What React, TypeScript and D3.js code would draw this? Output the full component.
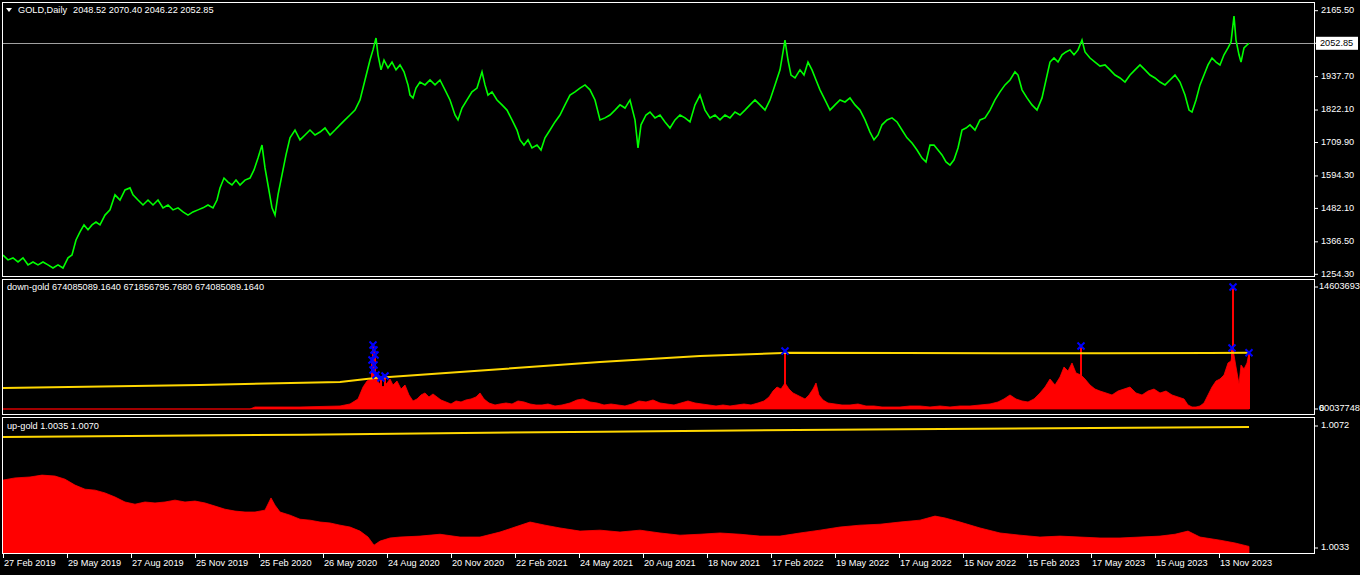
import React, { useEffect } from "react";
import * as d3 from "d3";

// ---------------- data ----------------
const goldTitle = "GOLD,Daily  2048.52 2070.40 2046.22 2052.85";
const downTitle = "down-gold 674085089.1640 671856795.7680 674085089.1640";
const upTitle = "up-gold 1.0035 1.0070";
const lastPrice = 2052.85;
const lastPriceLabel = "2052.85";

const xTickBars = [0, 64, 128, 192, 256, 320, 384, 448, 512, 576, 640, 704, 768, 832, 896, 960, 1024, 1088, 1152, 1216];
const xTickLabels = [
  "27 Feb 2019", "29 May 2019", "27 Aug 2019", "25 Nov 2019", "25 Feb 2020", "26 May 2020",
  "24 Aug 2020", "20 Nov 2020", "22 Feb 2021", "24 May 2021", "20 Aug 2021", "18 Nov 2021",
  "17 Feb 2022", "19 May 2022", "17 Aug 2022", "15 Nov 2022", "15 Feb 2023", "17 May 2023",
  "15 Aug 2023", "13 Nov 2023",
];

const priceTicks = [2165.5, 1937.7, 1822.1, 1709.9, 1594.3, 1482.1, 1366.5, 1254.3];
const priceMin = 1254.3;
const priceMax = 2165.5;

const downMax = 1460.369; // millions
const downTopLabel = "146036935";
const downBottomLabels = ["60037748", "0"];

const upMin = 1.0033;
const upMax = 1.0072;
const upTickLabels = ["1.0072", "1.0033"];

const goldBars = [
  0, 5, 10, 15, 20, 25, 30, 35, 40, 45, 50, 55, 60, 65, 69, 73, 77, 81, 85, 89, 93, 97, 102, 107, 112, 117, 122, 127, 130, 135,
  140, 145, 150, 155, 160, 165, 170, 175, 180, 185, 190, 195, 200, 205, 210, 214, 217, 221, 225, 229, 233, 237, 242, 247, 251, 255,
  259, 262, 265, 269, 272, 275, 279, 283, 287, 292, 297, 302, 307, 312, 317, 322, 327, 332, 337, 342, 347, 352, 357, 362, 367, 370,
  373, 375, 378, 381, 385, 389, 393, 397, 401, 405, 407, 410, 413, 417, 422, 427, 432, 437, 442, 447, 452, 455, 459, 464, 469, 474,
  479, 482, 485, 489, 494, 499, 504, 509, 514, 517, 521, 525, 529, 534, 538, 542, 547, 552, 557, 562, 567, 572, 577, 582, 587, 592,
  597, 602, 607, 612, 617, 622, 627, 632, 635, 638, 643, 647, 652, 657, 662, 667, 672, 677, 682, 687, 692, 697, 702, 707, 712, 717,
  722, 727, 732, 737, 742, 747, 752, 757, 762, 767, 772, 777, 782, 785, 788, 792, 797, 801, 805, 809, 813, 817, 822, 827, 832, 837,
  842, 847, 852, 857, 862, 867, 871, 875, 879, 884, 889, 894, 899, 904, 909, 914, 919, 923, 927, 931, 935, 939, 943, 947, 951, 955,
  959, 963, 967, 972, 977, 982, 987, 992, 997, 1002, 1007, 1012, 1015, 1019, 1024, 1029, 1034, 1039, 1043, 1047, 1051, 1055, 1059,
  1063, 1067, 1071, 1075, 1079, 1082, 1087, 1092, 1097, 1102, 1107, 1112, 1117, 1122, 1127, 1132, 1137, 1142, 1147, 1152, 1157,
  1162, 1167, 1172, 1177, 1182, 1186, 1189, 1193, 1197, 1201, 1205, 1209, 1213, 1217, 1221, 1225, 1228, 1231, 1233, 1236, 1238,
  1241, 1244, 1246,
];
const goldClose = [
  1321, 1304, 1311, 1297, 1311, 1287, 1297, 1287, 1297, 1287, 1276, 1287, 1276, 1311, 1321, 1373, 1401, 1425, 1408, 1425, 1435, 1425, 1459, 1477, 1529, 1511, 1546, 1553, 1529, 1511,
  1494, 1511, 1494, 1511, 1484, 1494, 1477, 1484, 1470, 1459, 1470, 1477, 1484, 1494, 1484, 1511, 1553, 1587, 1573, 1563, 1580, 1563, 1580, 1587, 1615, 1656,
  1701, 1622, 1563, 1484, 1459, 1529, 1598, 1667, 1726, 1753, 1719, 1736, 1753, 1736, 1746, 1760, 1736, 1753, 1771, 1788, 1805, 1822, 1857, 1926, 1995, 2030,
  2071, 2013, 1961, 1995, 1968, 1988, 1961, 1978, 1954, 1909, 1874, 1864, 1898, 1919, 1909, 1926, 1909, 1926, 1892, 1857, 1805, 1788, 1829, 1857, 1885, 1898,
  1954, 1909, 1874, 1885, 1857, 1840, 1822, 1788, 1753, 1719, 1701, 1719, 1691, 1701, 1684, 1726, 1753, 1781, 1805, 1840, 1874, 1885, 1898, 1909, 1892, 1857,
  1788, 1795, 1805, 1822, 1840, 1829, 1857, 1788, 1691, 1771, 1805, 1815, 1795, 1805, 1781, 1760, 1788, 1805, 1795, 1781, 1840, 1874, 1822, 1795, 1805, 1788,
  1805, 1795, 1815, 1805, 1822, 1840, 1857, 1840, 1822, 1857, 1909, 1961, 2064, 1995, 1943, 1933, 1961, 1943, 1988, 1961, 1926, 1892, 1857, 1822, 1840, 1857,
  1850, 1864, 1840, 1822, 1788, 1746, 1719, 1736, 1771, 1788, 1795, 1781, 1753, 1726, 1708, 1684, 1656, 1643, 1701, 1701, 1684, 1667, 1643, 1632, 1650, 1691,
  1753, 1760, 1771, 1753, 1788, 1795, 1822, 1857, 1885, 1909, 1926, 1954, 1943, 1892, 1864, 1840, 1822, 1864, 1926, 1988, 2002, 1988, 2013,
  2023, 2030, 2013, 2030, 2064, 2023, 2002, 1988, 1974, 1978, 1961, 1943, 1933, 1919, 1943, 1961, 1978, 1961, 1943, 1933, 1919,
  1909, 1926, 1943, 1919, 1874, 1822, 1815, 1857, 1909, 1943, 1978, 2002, 1988, 1978, 2013, 2037, 2057, 2147, 2064, 2013, 1988,
  2037, 2047, 2053,
];

// down-gold histogram (millions)
const downBars = [
  0, 247, 252, 297, 337, 347, 355, 360, 364, 368, 372, 376, 380, 384, 387, 390, 394, 398, 402, 406, 410, 414, 418, 422, 426, 430,
  434, 438, 443, 448, 453, 458, 463, 468, 473, 477, 481, 486, 492, 497, 503, 509, 515, 521, 527, 533, 539, 545, 552, 559, 567, 574,
  580, 587, 594, 601, 608, 615, 622, 629, 636, 643, 650, 657, 664, 671, 678, 685, 692, 699, 706, 713, 720, 727, 734, 741, 748, 755,
  761, 766, 770, 774, 778, 782, 786, 790, 794, 798, 802, 806, 810, 813, 816, 820, 825, 832, 839, 847, 855, 863, 871, 879, 887, 897,
  907, 917, 927, 937, 947, 957, 967, 977, 987, 995, 1001, 1007, 1013, 1019, 1025, 1031, 1037, 1042, 1047, 1052, 1057, 1061, 1065,
  1069, 1073, 1078, 1082, 1087, 1092, 1097, 1103, 1109, 1115, 1121, 1127, 1133, 1139, 1145, 1151, 1157, 1163, 1169, 1175, 1181,
  1185, 1189, 1193, 1197, 1201, 1205, 1209, 1213, 1217, 1221, 1225, 1228, 1230, 1233, 1236, 1238, 1241, 1244, 1246,
];
const downValues = [
  0, 0, 24, 24, 36, 60, 120, 263, 335, 359, 431, 311, 263, 311, 359, 287, 335, 239, 287, 168, 96, 120, 168, 192, 144, 180,
  144, 108, 84, 60, 96, 84, 108, 120, 144, 192, 120, 72, 48, 60, 72, 60, 96, 84, 60, 48, 48, 60, 36, 48, 72, 108,
  120, 84, 72, 48, 60, 48, 36, 60, 96, 84, 108, 72, 60, 48, 72, 96, 72, 60, 48, 36, 48, 36, 48, 60, 48, 72,
  96, 144, 215, 263, 239, 311, 239, 192, 168, 144, 120, 168, 239, 311, 168, 108, 72, 60, 48, 48, 60, 36, 36, 24, 24, 24,
  36, 36, 24, 36, 24, 36, 36, 48, 60, 84, 120, 168, 120, 96, 84, 120, 192, 263, 359, 287, 383, 503, 455,
  551, 431, 407, 359, 287, 239, 215, 192, 168, 215, 239, 263, 192, 168, 215, 239, 192, 215, 168, 144, 120,
  48, 24, 24, 36, 72, 168, 263, 335, 359, 407, 551, 575, 718, 503, 299, 527, 479, 551, 674,
];
const downAvgBars = [0, 197, 337, 372, 457, 597, 697, 787, 900, 1000, 1100, 1206, 1246];
const downAvgValues = [251, 287, 323, 371, 443, 563, 634, 672, 670, 668, 668, 670, 672];

const signalBars = [370, 371, 372, 369, 371, 370, 373, 378, 382, 782, 1078, 1230, 1229, 1246];
const signalValues = [766, 706, 646, 587, 527, 467, 407, 371, 395, 694, 754, 1460, 730, 674];

// up-gold
const upBars = [
  0, 12, 27, 39, 52, 62, 72, 82, 92, 102, 112, 122, 132, 142, 152, 162, 172, 182, 192, 202, 212, 222, 232, 242, 252, 262, 268,
  272, 277, 287, 297, 307, 317, 327, 337, 347, 357, 365, 371, 377, 387, 397, 417, 437, 457, 477, 497, 512, 527, 542, 557, 577,
  597, 617, 637, 657, 677, 697, 717, 737, 757, 777, 797, 817, 837, 857, 877, 897, 917, 932, 942, 957, 977, 997, 1017, 1037,
  1057, 1077, 1097, 1117, 1137, 1157, 1172, 1185, 1197, 1217, 1232, 1246,
];
const upValues = [
  1.00547, 1.00554, 1.00557, 1.00563, 1.0056, 1.0055, 1.00531, 1.00518, 1.00515, 1.00506, 1.00493, 1.00477, 1.0047, 1.00477,
  1.00474, 1.00477, 1.00483, 1.00477, 1.0048, 1.00474, 1.00464, 1.00454, 1.00448, 1.00445, 1.00445, 1.00451, 1.0049,
  1.00467, 1.00445, 1.00435, 1.00422, 1.00419, 1.00413, 1.0041, 1.00403, 1.00397, 1.00384, 1.00365, 1.00339, 1.00352,
  1.00362, 1.00365, 1.00368, 1.00374, 1.00365, 1.00365, 1.00381, 1.00397, 1.00413, 1.00403, 1.00394, 1.00384,
  1.00387, 1.00381, 1.00387, 1.00378, 1.00371, 1.00374, 1.00378, 1.00374, 1.00368, 1.00368, 1.00378, 1.00387, 1.00397,
  1.00403, 1.00406, 1.00413, 1.00419, 1.00432, 1.00426, 1.00413, 1.00394, 1.00378, 1.00371, 1.00365,
  1.00368, 1.00365, 1.00362, 1.00362, 1.00365, 1.00368, 1.00374, 1.00384, 1.00365, 1.00355, 1.00346, 1.00335,
];
const upAvgBars = [0, 300, 600, 900, 1246];
const upAvgValues = [1.00685, 1.00692, 1.00702, 1.0071, 1.00717];

// ---------------- layout / style ----------------
const W = 1360;
const H = 575;
const LEFT = 2;
const RIGHT = 1314;
const P1 = { top: 2, bottom: 276 };
const P2 = { top: 279, bottom: 414 };
const P3 = { top: 417, bottom: 553 };
const FONT = "'Liberation Sans', Arial, sans-serif";
const FS = 9.2;
const GREEN = "#00ff00";
const RED = "#ff0000";
const GOLD = "#ffd700";
const BLUE = "#0000ff";
const FG = "#ffffff";

export default function App() {
  useEffect(() => {
    document.body.style.margin = "0";
    document.body.style.background = "#000";
  }, []);

  const x = d3.scaleLinear().domain([0, 1246]).range([3, 1249]);
  const y1 = d3.scaleLinear().domain([priceMin, priceMax]).range([274.3, 10.7]);
  const y2 = d3.scaleLinear().domain([0, downMax]).range([409, 287]);
  const y3 = d3.scaleLinear().domain([upMin, upMax]).range([548, 426]);

  const goldPath = d3
    .line<number>()
    .x((_, i) => x(goldBars[i]))
    .y((d) => y1(d))(goldClose) as string;

  const downArea = d3
    .area<number>()
    .x((_, i) => x(downBars[i]))
    .y0(y2(0))
    .y1((d) => y2(d))(downValues) as string;
  const downAvg = d3
    .line<number>()
    .x((_, i) => x(downAvgBars[i]))
    .y((d) => y2(d))(downAvgValues) as string;

  const upArea = d3
    .area<number>()
    .x((_, i) => x(upBars[i]))
    .y0(P3.bottom)
    .y1((d) => y3(d))(upValues) as string;
  const upAvg = d3
    .line<number>()
    .x((_, i) => x(upAvgBars[i]))
    .y((d) => y3(d))(upAvgValues) as string;

  const panels = [P1, P2, P3];
  const [titleA, titleB] = goldTitle.split("  ");

  return (
    <svg
      width={W}
      height={H}
      style={{ position: "absolute", left: 0, top: 0, display: "block", background: "#000" }}
      fontFamily={FONT}
      fontSize={FS}
    >
      <defs>
        {panels.map((p, i) => (
          <clipPath id={`clip${i}`} key={i}>
            <rect x={LEFT + 1} y={p.top + 1} width={RIGHT - LEFT - 1} height={p.bottom - p.top - 1} />
          </clipPath>
        ))}
      </defs>
      <rect x={0} y={0} width={W} height={H} fill="#000" />

      {/* ---------- Panel 1: price ---------- */}
      <g clipPath="url(#clip0)">
        <line x1={LEFT} x2={RIGHT} y1={Math.round(y1(lastPrice)) + 0.5} y2={Math.round(y1(lastPrice)) + 0.5} stroke="#a0a0a0" strokeWidth={1} />
        <path d={goldPath} fill="none" stroke={GREEN} strokeWidth={1.6} strokeLinejoin="miter" />
      </g>
      <path d="M6,8 L12,8 L9,12 Z" fill={FG} />
      <text x={18} y={11} dominantBaseline="middle" fill={FG}>
        {titleA}
        <tspan dx={6}>{titleB}</tspan>
      </text>
      {priceTicks.map((t) => (
        <g key={t}>
          <line x1={RIGHT} x2={RIGHT + 4} y1={y1(t)} y2={y1(t)} stroke={FG} />
          <text x={RIGHT + 7} y={y1(t)} dominantBaseline="middle" fill={FG}>
            {t.toFixed(2)}
          </text>
        </g>
      ))}
      <line x1={RIGHT} x2={RIGHT + 4} y1={y1(lastPrice)} y2={y1(lastPrice)} stroke={FG} />
      <rect x={RIGHT + 2} y={y1(lastPrice) - 6.5} width={42} height={13} fill="#fff" />
      <text x={RIGHT + 6} y={y1(lastPrice)} dominantBaseline="middle" fill="#000">
        {lastPriceLabel}
      </text>

      {/* ---------- Panel 2: down-gold ---------- */}
      <g clipPath="url(#clip1)">
        <path d={downArea} fill={RED} stroke={RED} strokeWidth={0.8} />
        {signalBars.map((b, i) => (
          <rect
            key={`s${i}`}
            x={Math.round(x(b)) - 1}
            width={2}
            y={y2(signalValues[i])}
            height={y2(0) - y2(signalValues[i])}
            fill={RED}
            shapeRendering="crispEdges"
          />
        ))}
        <path d={downAvg} fill="none" stroke={GOLD} strokeWidth={2} />
        {signalBars.map((b, i) => {
          const cx = x(b);
          const cy = y2(signalValues[i]);
          return (
            <path
              key={`m${i}`}
              d={`M${cx - 3.5},${cy - 3.5} L${cx + 3.5},${cy + 3.5} M${cx - 3.5},${cy + 3.5} L${cx + 3.5},${cy - 3.5}`}
              stroke={BLUE}
              strokeWidth={2}
            />
          );
        })}
      </g>
      <text x={7} y={288} dominantBaseline="middle" fill={FG}>
        {downTitle}
      </text>
      <line x1={RIGHT} x2={RIGHT + 4} y1={y2(downMax)} y2={y2(downMax)} stroke={FG} />
      <text x={RIGHT + 5} y={y2(downMax)} dominantBaseline="middle" fill={FG}>
        {downTopLabel}
      </text>
      <line x1={RIGHT} x2={RIGHT + 4} y1={y2(0)} y2={y2(0)} stroke={FG} />
      {downBottomLabels.map((l) => (
        <text key={l} x={RIGHT + 5} y={y2(0)} dominantBaseline="middle" fill={FG}>
          {l}
        </text>
      ))}

      {/* ---------- Panel 3: up-gold ---------- */}
      <g clipPath="url(#clip2)">
        <path d={upArea} fill={RED} stroke={RED} strokeWidth={0.8} />
        <path d={upAvg} fill="none" stroke={GOLD} strokeWidth={2} />
      </g>
      <text x={7} y={427} dominantBaseline="middle" fill={FG}>
        {upTitle}
      </text>
      {[upMax, upMin].map((v, i) => (
        <g key={v}>
          <line x1={RIGHT} x2={RIGHT + 4} y1={y3(v)} y2={y3(v)} stroke={FG} />
          <text x={RIGHT + 7} y={y3(v)} dominantBaseline="middle" fill={FG}>
            {upTickLabels[i]}
          </text>
        </g>
      ))}

      {/* ---------- panel borders ---------- */}
      {panels.map((p, i) => (
        <rect
          key={`b${i}`}
          x={LEFT + 0.5}
          y={p.top + 0.5}
          width={RIGHT - LEFT}
          height={p.bottom - p.top}
          fill="none"
          stroke={FG}
          strokeWidth={1}
        />
      ))}

      {/* ---------- time axis ---------- */}
      {xTickBars.map((b, i) => (
        <g key={b}>
          <line x1={Math.round(x(b)) + 0.5} x2={Math.round(x(b)) + 0.5} y1={P3.bottom} y2={P3.bottom + 5} stroke={FG} />
          <text x={x(b) + 1} y={564} dominantBaseline="middle" fill={FG}>
            {xTickLabels[i]}
          </text>
        </g>
      ))}
    </svg>
  );
}
